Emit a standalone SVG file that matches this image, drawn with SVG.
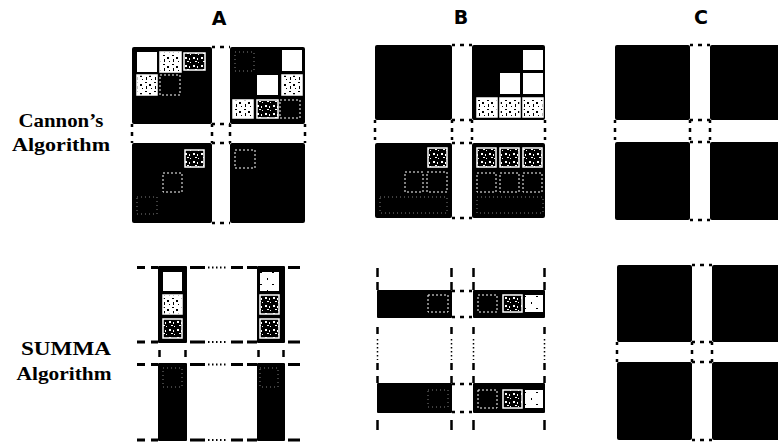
<svg xmlns="http://www.w3.org/2000/svg" width="778" height="443" viewBox="0 0 778 443">
<defs>
<pattern id="spk" width="9" height="9" patternUnits="userSpaceOnUse">
<rect width="9" height="9" fill="#fff"/>
<rect x="1" y="1" width="2" height="1" fill="#000"/>
<rect x="5" y="3" width="2" height="2" fill="#000"/>
<rect x="2" y="5" width="1" height="3" fill="#000"/>
<rect x="7" y="7" width="1" height="1" fill="#000"/>
</pattern>
<pattern id="spkD" width="8" height="8" patternUnits="userSpaceOnUse">
<rect width="8" height="8" fill="#000"/>
<rect x="1" y="1" width="2" height="2" fill="#fff"/>
<rect x="5" y="2" width="1" height="2" fill="#fff"/>
<rect x="3" y="5" width="2" height="1" fill="#fff"/>
<rect x="6" y="6" width="1" height="1" fill="#fff"/>
</pattern>
<pattern id="spkL" width="12" height="12" patternUnits="userSpaceOnUse">
<rect width="12" height="12" fill="#fff"/>
<rect x="3" y="2" width="1" height="2" fill="#000"/>
<rect x="8" y="8" width="2" height="1" fill="#000"/>
</pattern>
</defs>
<style>
.b{fill:#000}
.w{fill:#fff}
.t{fill:url(#spk);stroke:#fff;stroke-width:1.5}
.td{fill:url(#spkD);stroke:#fff;stroke-width:1.5}
.tl{fill:url(#spkL)}
.d{fill:none;stroke:#fff;stroke-width:1;stroke-dasharray:2 2}
.f{fill:none;stroke:#fff;stroke-width:1;stroke-dasharray:1 3;opacity:.5}
.g{stroke:#000;stroke-width:2.5;fill:none;stroke-dasharray:3 5 4 5 3}
.s{stroke:#000;stroke-width:3;fill:none}
.o{stroke:#000;stroke-width:2;fill:none;stroke-dasharray:1.5 2.5}
.lbl{font-family:"Liberation Serif",serif;font-weight:bold;font-size:19px;fill:#000;text-anchor:middle}
.hd{font-family:"DejaVu Sans",sans-serif;font-weight:bold;font-size:19px;fill:#000;text-anchor:middle}
</style>
<rect width="778" height="443" fill="#fff"/>

<g id="headers">
<text class="hd" x="219" y="25">A</text>
<text class="hd" x="461" y="24">B</text>
<text class="hd" x="701" y="24">C</text>
</g>
<g id="labels">
<text class="lbl" x="61" y="127" textLength="85" lengthAdjust="spacingAndGlyphs">Cannon’s</text>
<text class="lbl" x="61" y="151" textLength="98" lengthAdjust="spacingAndGlyphs">Algorithm</text>
<text class="lbl" x="66" y="355" textLength="90" lengthAdjust="spacingAndGlyphs">SUMMA</text>
<text class="lbl" x="64" y="380" textLength="95" lengthAdjust="spacingAndGlyphs">Algorithm</text>
</g>

<!-- Cannon A -->
<g id="cannon-A">
<g id="cA11"><rect class="b" x="132" y="47" width="80" height="77" rx="2"/>
<rect class="w" x="137" y="52" width="20" height="20"/>
<rect class="t" x="160" y="52" width="21" height="20"/>
<rect class="td" x="184" y="53" width="21" height="17"/>
<rect class="t" x="137" y="75" width="20" height="20"/>
<rect class="d" x="160" y="75" width="20" height="20"/>
</g>
<g id="cA12"><rect class="b" x="230" y="47" width="75" height="77" rx="2"/>
<rect class="f" x="235" y="52" width="19" height="19"/>
<rect class="w" x="282" y="50" width="20" height="21"/>
<rect class="w" x="257" y="75" width="21" height="20"/>
<rect class="t" x="282" y="75" width="20" height="20"/>
<rect class="t" x="233" y="100" width="20" height="18"/>
<rect class="td" x="257" y="100" width="21" height="18"/>
<rect class="d" x="280" y="100" width="20" height="18"/>
</g>
<g id="cA21"><rect class="b" x="132" y="143" width="80" height="80" rx="2"/>
<rect class="td" x="185" y="150" width="19" height="17"/>
<rect class="d" x="163" y="173" width="19" height="19"/>
<rect class="f" x="137" y="197" width="20" height="17"/>
</g>
<g id="cA22"><rect class="b" x="230" y="143" width="75" height="80" rx="2"/>
<rect class="d" x="235" y="150" width="20" height="18"/>
</g>
</g>

<!-- Cannon B -->
<g id="cannon-B">
<g id="cB11"><rect class="b" x="375" y="45" width="77" height="75" rx="2"/></g>
<g id="cB12"><rect class="b" x="472" y="45" width="73" height="75" rx="2"/>
<rect class="w" x="523" y="50" width="20" height="20"/>
<rect class="w" x="500" y="73" width="20" height="21"/>
<rect class="w" x="523" y="73" width="20" height="21"/>
<rect class="t" x="477" y="98" width="20" height="19"/>
<rect class="t" x="500" y="98" width="20" height="19"/>
<rect class="t" x="523" y="98" width="20" height="19"/>
</g>
<g id="cB21"><rect class="b" x="375" y="143" width="77" height="75" rx="2"/>
<rect class="td" x="428" y="148" width="19" height="19"/>
<rect class="d" x="405" y="172" width="18" height="20"/>
<rect class="d" x="427" y="172" width="20" height="20"/>
<rect class="f" x="380" y="197" width="67" height="16"/>
</g>
<g id="cB22"><rect class="b" x="472" y="143" width="73" height="75" rx="2"/>
<rect class="td" x="477" y="148" width="19" height="19"/>
<rect class="td" x="500" y="148" width="19" height="19"/>
<rect class="td" x="523" y="148" width="19" height="19"/>
<rect class="d" x="477" y="173" width="19" height="19"/>
<rect class="d" x="500" y="173" width="19" height="19"/>
<rect class="d" x="523" y="173" width="19" height="19"/>
<rect class="f" x="477" y="197" width="66" height="16"/>
</g>
</g>

<!-- Cannon C -->
<g id="cannon-C">
<g id="cC11"><rect class="b" x="615" y="45" width="75" height="75" rx="2"/></g>
<g id="cC12"><rect class="b" x="710" y="45" width="72" height="75" rx="2"/></g>
<g id="cC21"><rect class="b" x="615" y="142" width="75" height="78" rx="2"/></g>
<g id="cC22"><rect class="b" x="710" y="142" width="72" height="78" rx="2"/></g>
</g>

<!-- SUMMA A -->
<g id="summa-A">
<g id="sA1"><rect class="b" x="158" y="266" width="29" height="77" rx="1"/>
<rect class="w" x="163" y="272" width="19" height="19"/>
<rect class="t" x="163" y="295" width="19" height="19"/>
<rect class="td" x="163" y="319" width="19" height="19"/>
</g>
<g id="sA2"><rect class="b" x="257" y="266" width="28" height="77" rx="1"/>
<rect class="tl" x="260" y="272" width="19" height="19"/>
<rect class="td" x="260" y="295" width="19" height="19"/>
<rect class="td" x="260" y="319" width="19" height="19"/>
</g>
<g id="sA3"><rect class="b" x="158" y="363" width="29" height="78" rx="1"/>
<rect class="f" x="163" y="368" width="19" height="19"/>
</g>
<g id="sA4"><rect class="b" x="257" y="363" width="28" height="78" rx="1"/>
<rect class="f" x="260" y="368" width="18" height="19"/>
</g>
</g>

<!-- SUMMA B -->
<g id="summa-B">
<g id="sB1"><rect class="b" x="377" y="290" width="75" height="28" rx="1"/>
<rect class="d" x="428" y="295" width="20" height="17"/>
</g>
<g id="sB2"><rect class="b" x="473" y="290" width="72" height="28" rx="1"/>
<rect class="d" x="478" y="295" width="19" height="17"/>
<rect class="td" x="503" y="295" width="19" height="17"/>
<rect class="tl" x="525" y="295" width="18" height="17"/>
</g>
<g id="sB3"><rect class="b" x="377" y="383" width="75" height="30" rx="1"/>
<rect class="f" x="428" y="390" width="20" height="17"/>
</g>
<g id="sB4"><rect class="b" x="473" y="383" width="72" height="30" rx="1"/>
<rect class="d" x="478" y="390" width="19" height="18"/>
<rect class="td" x="503" y="390" width="19" height="18"/>
<rect class="tl" x="525" y="390" width="18" height="18"/>
</g>
</g>

<!-- SUMMA C -->
<g id="summa-C">
<g id="sC11"><rect class="b" x="617" y="265" width="75" height="77" rx="2"/></g>
<g id="sC12"><rect class="b" x="712" y="265" width="70" height="77" rx="2"/></g>
<g id="sC21"><rect class="b" x="617" y="362" width="75" height="78" rx="2"/></g>
<g id="sC22"><rect class="b" x="712" y="362" width="70" height="78" rx="2"/></g>
</g>

<g id="gridlines">
<!-- Cannon A gaps -->
<path class="g" d="M212 47H230M212 124H230M212 143H230M212 223H230"/>
<path class="g" d="M132 124V143M212 124V143M230 124V143M305 124V143"/>
<!-- Cannon B gaps -->
<path class="g" d="M452 45H472M452 120H472M452 143H472M452 218H472"/>
<path class="g" d="M375 120V143M452 120V143M472 120V143M545 120V143"/>
<!-- Cannon C gaps -->
<path class="g" d="M690 45H710M690 120H710M690 142H710M690 220H710"/>
<path class="g" d="M615 120V142M690 120V142M710 120V142"/>
<!-- SUMMA C gaps -->
<path class="g" d="M692 265H712M692 342H712M692 362H712M692 440H712"/>
<path class="g" d="M617 342V362M692 342V362M712 342V362"/>
<!-- SUMMA A horizontal rules -->
<path class="s" d="M137 267.5H145M151 267.5H158M190 267.5H205M231 267.5H243M247 267.5H257M288 267.5H300"/>
<path class="o" d="M208 267.5H228"/>
<path class="s" d="M137 342H145M151 342H158M190 342H205M231 342H243M247 342H257M288 342H300"/>
<path class="o" d="M208 342H228"/>
<path class="s" d="M137 364.5H145M151 364.5H158M190 364.5H205M231 364.5H243M247 364.5H257M288 364.5H300"/>
<path class="o" d="M208 364.5H228"/>
<path class="s" d="M137 440H145M151 440H158M190 440H205M231 440H243M247 440H257M288 440H300"/>
<path class="o" d="M208 440H228"/>
<path class="s" style="stroke-width:2.5" d="M159.5 350V357M185.5 350V357M258.5 350V357M283.5 350V357"/>
<!-- SUMMA B vertical rules -->
<path class="s" style="stroke-width:2.5" d="M377.5 268V277M377.5 282V290M377.5 327V334M377.5 363V370M377.5 376V383M377.5 420V430"/>
<path class="s" style="stroke-width:2.5" d="M451.5 268V277M451.5 282V290M451.5 327V334M451.5 363V370M451.5 376V383M451.5 420V430"/>
<path class="s" style="stroke-width:2.5" d="M473.5 268V277M473.5 282V290M473.5 327V334M473.5 363V370M473.5 376V383M473.5 420V430"/>
<path class="s" style="stroke-width:2.5" d="M544.5 268V277M544.5 282V290M544.5 327V334M544.5 363V370M544.5 376V383M544.5 420V430"/>
<path class="o" style="stroke-width:1.5" d="M377.5 339V360M451.5 339V360M473.5 339V360M544.5 339V360"/>
<path class="g" d="M452 291H473M452 317H473M452 384H473M452 412H473"/>
</g>
</svg>
